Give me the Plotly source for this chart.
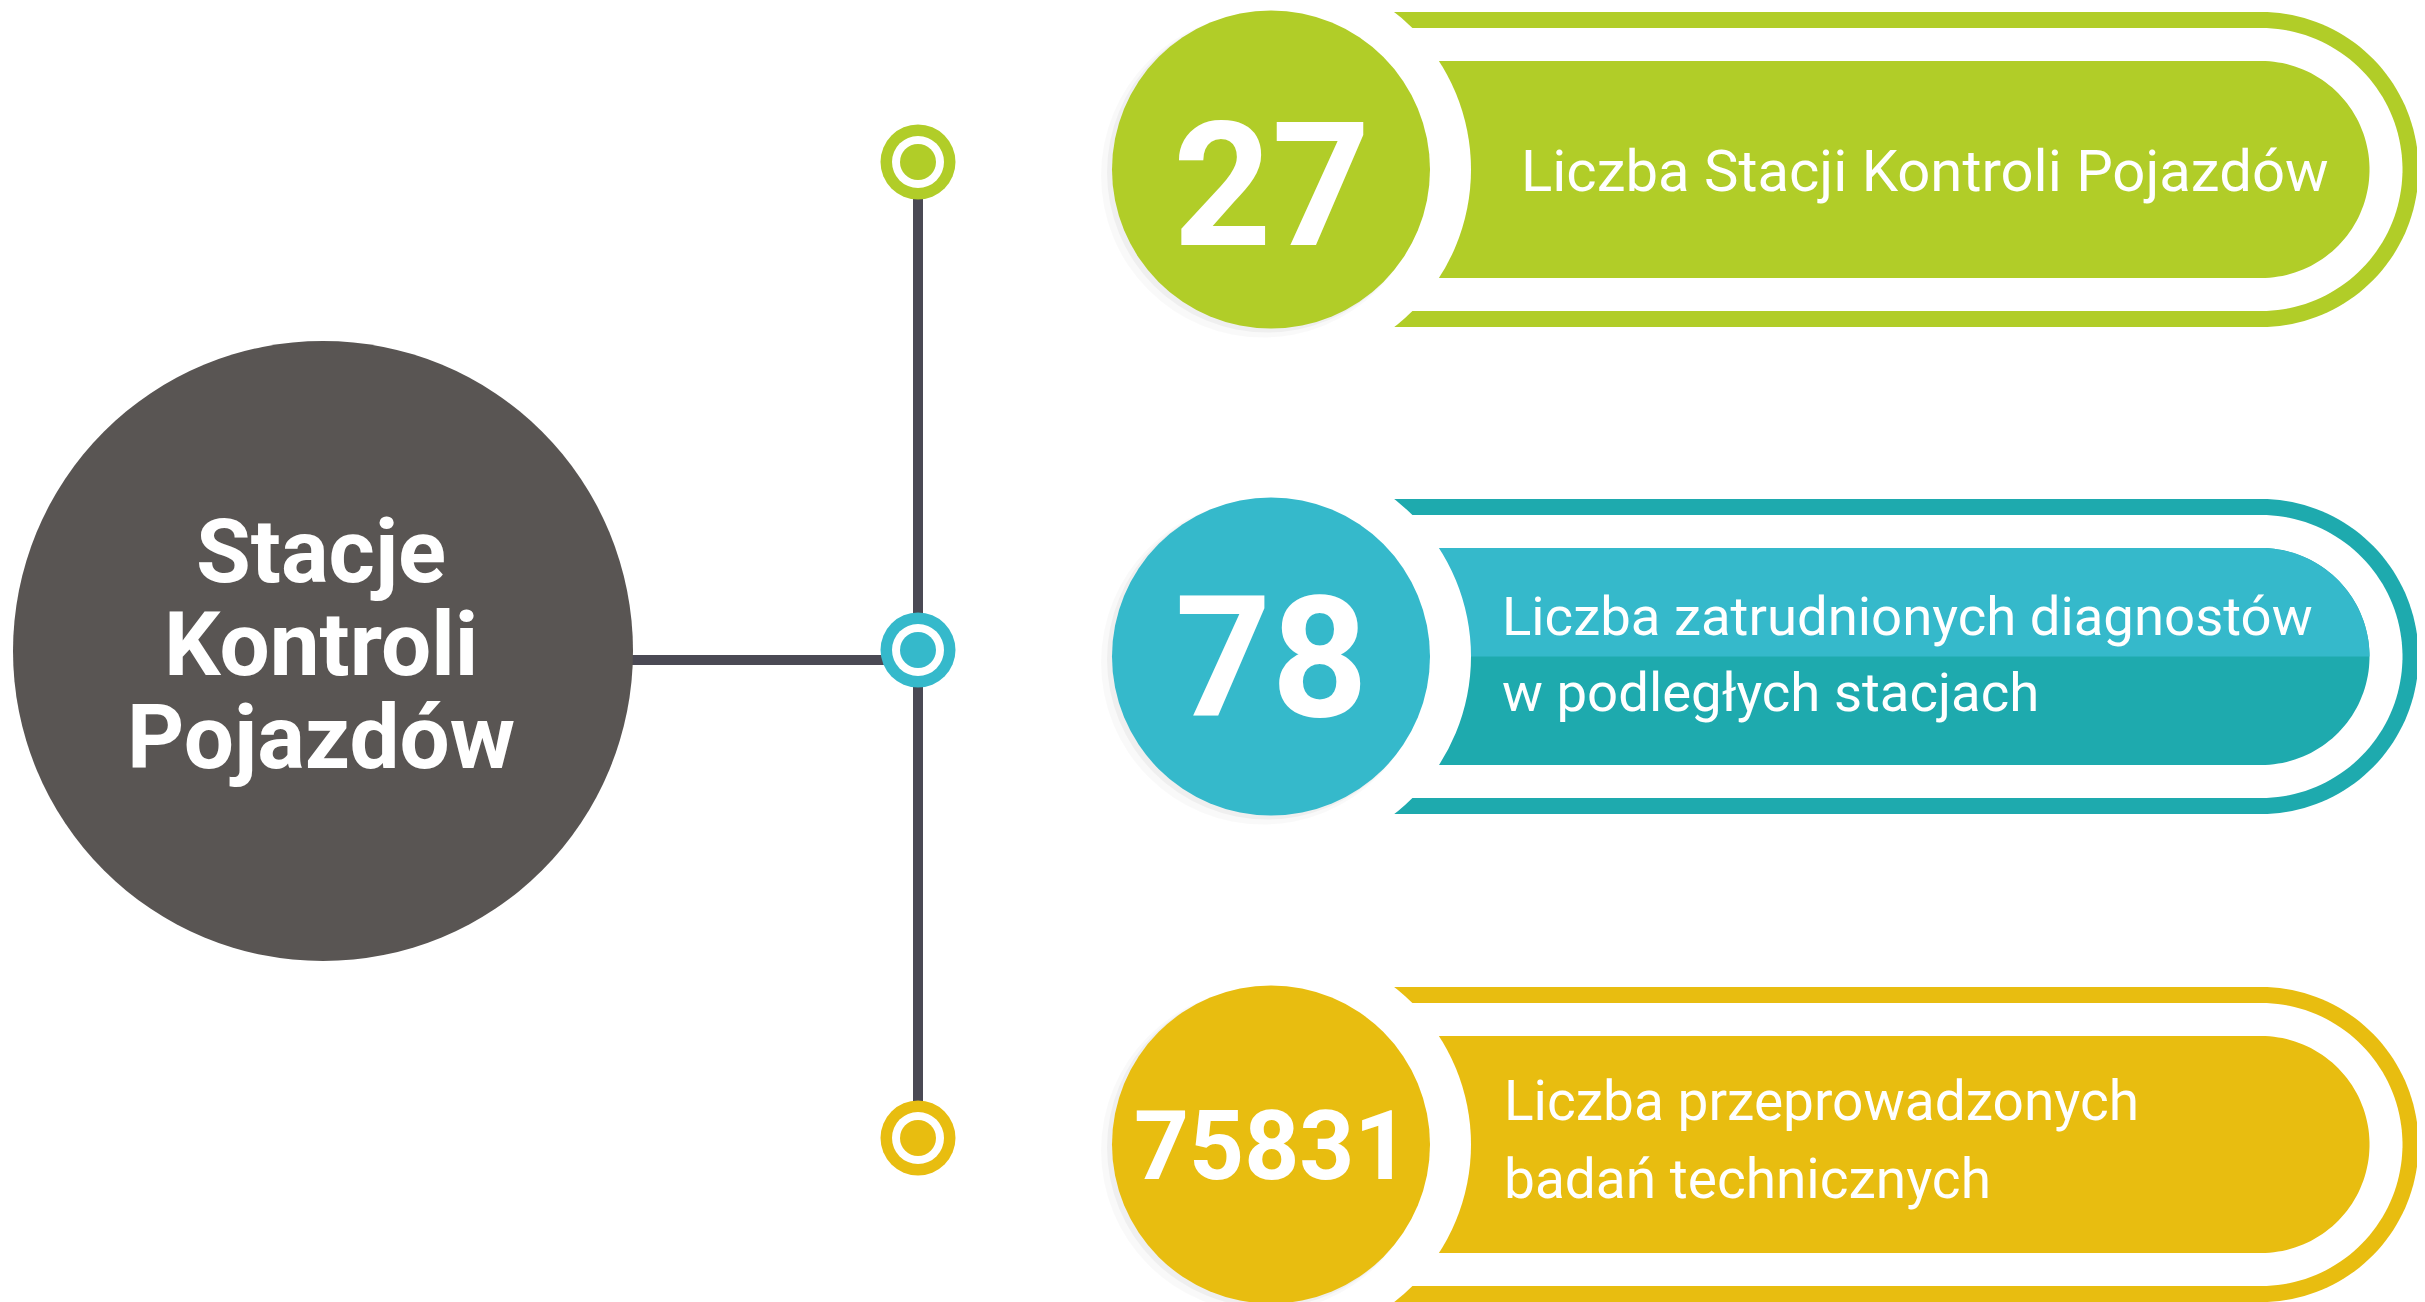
import numpy as np
import plotly.graph_objects as go

W, H = 2425, 1302
PAGE_MARGIN = 8  # default body margin of the html page

# --- data -------------------------------------------------------------
title_lines = ["Stacje", "Kontroli", "Pojazdów"]
values = ["27", "78", "75831"]
label_lines = [
    ["Liczba Stacji Kontroli Pojazdów"],
    ["Liczba zatrudnionych diagnostów", "w podległych stacjach"],
    ["Liczba przeprowadzonych", "badań technicznych"],
]
circle_colors = ["#b1cd28", "#35b9cb", "#e8bd10"]
band_colors = ["#b1cd28", "#1eaaae", "#e8bd10"]
pill_top_colors = ["#b1cd28", "#35b9cb", "#e8bd10"]
pill_bottom_colors = ["#b1cd28", "#1eaaae", "#e8bd10"]

# --- layout constants ---------------------------------------------------
_DARK = "#595553"
_LINE = "#4a4954"
_FONT = "Roboto, Liberation Sans, Arial, sans-serif"
card_y = [169.5, 656.5, 1144.5]
dot_y = [162, 650, 1138]
num_x = 1271
arc_x = 2261
num_text_y = [185, 657, 1145]
num_sizes = [172, 168, 96]
label_sizes = [58, 54.5, 55]
label_x = [1519, 1500, 1502]
label_y = [[170], [615, 691], [1100, 1178]]
title_y = [550, 643, 736]


def circle(cx, cy, r, color):
    return dict(type="circle", xref="x", yref="y", x0=cx - r, x1=cx + r,
                y0=cy - r, y1=cy + r, fillcolor=color, line_width=0)


def pill(x0, cx, cy, r, color, top_only=False):
    if top_only:
        t = np.linspace(-np.pi / 2, 0, 40)
        pts = [(x0, cy - r)] + [(cx + r * np.cos(a), cy + r * np.sin(a)) for a in t] + [(x0, cy)]
    else:
        t = np.linspace(-np.pi / 2, np.pi / 2, 80)
        pts = [(x0, cy - r)] + [(cx + r * np.cos(a), cy + r * np.sin(a)) for a in t] + [(x0, cy + r)]
    path = "M " + " L ".join(f"{x:.1f},{y:.1f}" for x, y in pts) + " Z"
    return dict(type="path", xref="x", yref="y", path=path,
                fillcolor=color, line_width=0)


def text(t, x, y, size, anchor="center", bold=False):
    # y is roughly the centre of the cap height
    return dict(text=t, x=x, y=y + 1, showarrow=False, xanchor=anchor,
                yanchor="middle",
                font=dict(family=_FONT, size=size, color="white",
                          weight="bold" if bold else "normal"))


shapes = []
ann = []

# connector lines
shapes.append(dict(type="line", x0=323, x1=918, y0=660, y1=660,
                   line=dict(color=_LINE, width=10)))
shapes.append(dict(type="line", x0=918, x1=918, y0=dot_y[0], y1=dot_y[-1],
                   line=dict(color=_LINE, width=10)))

# main dark circle
shapes.append(circle(323, 651, 310, _DARK))
for txt, yy in zip(title_lines, title_y):
    ann.append(text(txt, 321, yy, 89, bold=True))

# small ring markers on the vertical line
for i, yy in enumerate(dot_y):
    shapes.append(circle(918, yy, 37.5, circle_colors[i]))
    shapes.append(circle(918, yy, 26, "white"))
    shapes.append(circle(918, yy, 18, circle_colors[i]))

# cards
for i, cy in enumerate(card_y):
    shapes.append(pill(num_x, arc_x, cy, 157.5, band_colors[i]))
    shapes.append(pill(num_x, arc_x, cy, 141.5, "white"))
    shapes.append(pill(num_x, arc_x, cy, 108.5, pill_bottom_colors[i]))
    if pill_top_colors[i] != pill_bottom_colors[i]:
        shapes.append(pill(num_x, arc_x, cy, 108.5, pill_top_colors[i], top_only=True))
    shapes.append(circle(num_x, cy, 200, "white"))
    # soft shadow
    shapes.append(circle(num_x - 8, cy + 6, 162, "rgba(0,0,0,0.025)"))
    shapes.append(circle(num_x - 4, cy + 3, 160, "rgba(0,0,0,0.04)"))
    shapes.append(circle(num_x, cy, 159, circle_colors[i]))

    ann.append(text(values[i], 1271, num_text_y[i], num_sizes[i], bold=True))
    for line, ly in zip(label_lines[i], label_y[i]):
        ann.append(text(line, label_x[i], ly, label_sizes[i], anchor="left"))

fig = go.Figure()
fig.update_layout(
    width=W - PAGE_MARGIN, height=H - PAGE_MARGIN,
    margin=dict(l=0, r=0, t=0, b=0),
    paper_bgcolor="white", plot_bgcolor="white",
    xaxis=dict(range=[PAGE_MARGIN, W], visible=False, fixedrange=True),
    yaxis=dict(range=[H, PAGE_MARGIN], visible=False, fixedrange=True),
    shapes=shapes, annotations=ann, showlegend=False,
)
fig.write_html("out.html")
